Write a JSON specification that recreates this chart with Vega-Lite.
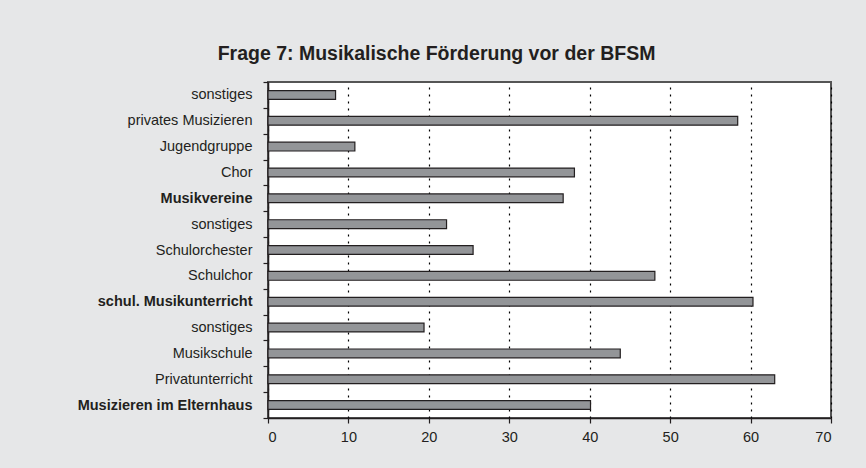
{
  "$schema": "https://vega.github.io/schema/vega-lite/v6.json",
  "width": 563,
  "height": 336,
  "autosize": {"type": "none"},
  "padding": {"left": 268, "top": 82, "right": 35, "bottom": 50},
  "background": "#e6e7e8",
  "title": {
    "text": "Frage 7: Musikalische Förderung vor der BFSM",
    "font": "Liberation Sans",
    "fontSize": 19.5,
    "fontWeight": "bold",
    "color": "#231f20",
    "anchor": "middle",
    "dx": -113,
    "offset": 10
  },
  "data": {
    "values": [
      {"kategorie": "sonstiges|1", "anteil": 8.4},
      {"kategorie": "privates Musizieren|2", "anteil": 58.4},
      {"kategorie": "Jugendgruppe|3", "anteil": 10.8},
      {"kategorie": "Chor|4", "anteil": 38.1},
      {"kategorie": "Musikvereine|5", "anteil": 36.7},
      {"kategorie": "sonstiges|6", "anteil": 22.2},
      {"kategorie": "Schulorchester|7", "anteil": 25.5},
      {"kategorie": "Schulchor|8", "anteil": 48.1},
      {"kategorie": "schul. Musikunterricht|9", "anteil": 60.3},
      {"kategorie": "sonstiges|10", "anteil": 19.4},
      {"kategorie": "Musikschule|11", "anteil": 43.8},
      {"kategorie": "Privatunterricht|12", "anteil": 63.0},
      {"kategorie": "Musizieren im Elternhaus|13", "anteil": 40.1}
    ]
  },
  "mark": {"type": "bar", "fill": "#939598", "stroke": "#231f20", "strokeWidth": 1.2, "height": {"band": 0.34}},
  "encoding": {
    "y": {
      "field": "kategorie",
      "type": "nominal",
      "sort": null,
      "scale": {"paddingInner": 0, "paddingOuter": 0},
      "axis": {
        "title": null,
        "labelExpr": "split(datum.label, '|')[0]",
        "labelFont": "Liberation Sans",
        "labelFontSize": 14.5,
        "labelColor": "#231f20",
        "labelLimit": 400,
        "labelFontWeight": {
          "condition": {"test": "indexof(['Musikvereine|5', 'schul. Musikunterricht|9', 'Musizieren im Elternhaus|13'], datum.value) >= 0", "value": "bold"},
          "value": "normal"
        },
        "labelPadding": 11,
        "tickBand": "extent",
        "tickSize": 5,
        "tickColor": "#231f20",
        "tickWidth": 1.2,
        "domainColor": "#231f20",
        "domainWidth": 1.5,
        "grid": false
      }
    },
    "x": {
      "field": "anteil",
      "type": "quantitative",
      "scale": {"domain": [0, 70], "nice": false},
      "axis": {
        "title": null,
        "values": [0, 10, 20, 30, 40, 50, 60, 70],
        "labelFont": "Liberation Sans",
        "labelFontSize": 14.5,
        "labelColor": "#231f20",
        "labelPadding": 7,
        "tickSize": 5,
        "tickColor": "#231f20",
        "tickWidth": 1.2,
        "domainColor": "#231f20",
        "domainWidth": 1.5,
        "grid": true,
        "gridColor": "#000000",
        "gridWidth": 1.2,
        "gridDash": [2, 5]
      }
    }
  },
  "config": {"view": {"stroke": "#555555", "strokeWidth": 2, "fill": "#ffffff"}}
}
